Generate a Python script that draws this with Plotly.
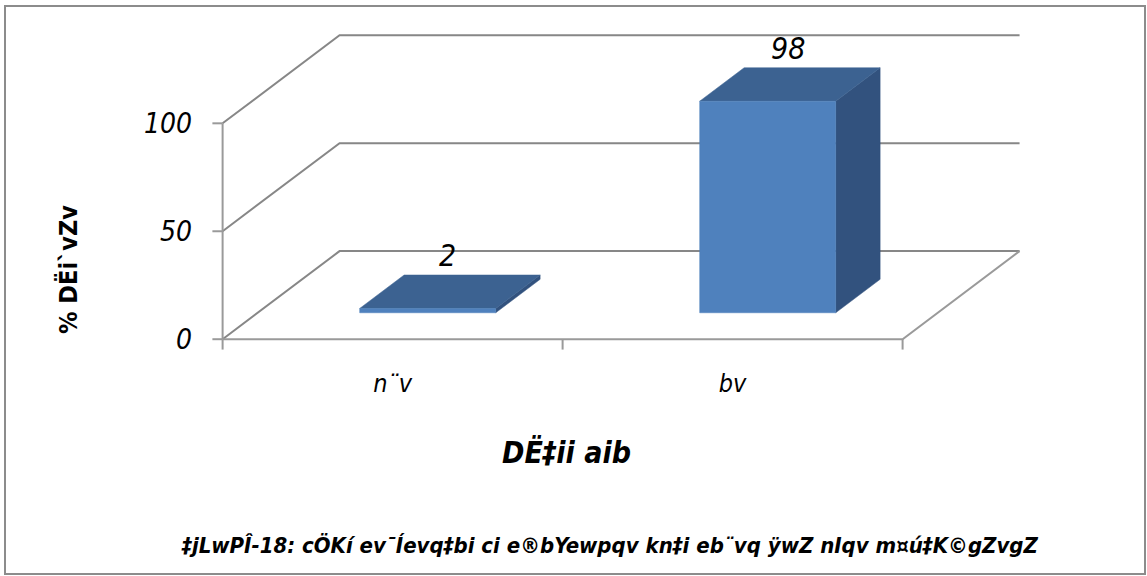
import plotly.graph_objects as go

# ---------------- data ----------------
categories = ["n¨v", "bv"]
values = [2, 98]
y_ticks = [0, 50, 100]
y_title = "% DËi`vZv"
x_title = "DË‡ii aib"
caption = "‡jLwPÎ-18: cÖKí ev¯Íevq‡bi ci e®bYewpqv kn‡i eb¨vq ÿwZ nIqv m¤ú‡K©gZvgZ"

# ---------------- 3-D projection settings ----------------
DEPTH_X = 0.344      # horizontal shift of the back wall (category units)
DEPTH_Y = 40.8       # vertical shift of the back wall (value units)
BAR_HALF = 0.2
D_FRONT = 0.30
D_BACK = 0.68
X_MIN, X_MAX = -0.5, len(categories) - 0.5

FRONT = "#4F81BD"
TOP = "#3C6291"
SIDE = "#32527E"
GRID = "#878787"
FONT = "Liberation Sans Narrow, DejaVu Sans Condensed, Arial Narrow, sans-serif"


def proj(x, v, d):
    return x + d * DEPTH_X, v + d * DEPTH_Y


fig = go.Figure()


def line(pts, color=GRID, width=2):
    xs = [p[0] for p in pts]
    ys = [p[1] for p in pts]
    fig.add_trace(go.Scatter(x=xs, y=ys, mode="lines", line=dict(color=color, width=width),
                             hoverinfo="skip", showlegend=False))


def poly(pts, color):
    xs = [p[0] for p in pts] + [pts[0][0]]
    ys = [p[1] for p in pts] + [pts[0][1]]
    fig.add_trace(go.Scatter(x=xs, y=ys, mode="lines", fill="toself", fillcolor=color,
                             line=dict(color=color, width=0.5), hoverinfo="skip", showlegend=False))


# walls: back gridlines and left-wall diagonals
for t in y_ticks:
    line([proj(X_MIN, t, 0), proj(X_MIN, t, 1), proj(X_MAX, t, 1)])
# floor right edge and front baseline
line([proj(X_MIN, 0, 0), proj(X_MAX, 0, 0), proj(X_MAX, 0, 1)], color="#9a9a9a")
# front value axis
line([proj(X_MIN, 0, 0), proj(X_MIN, max(y_ticks), 0)], color="#9a9a9a")
# value axis tick marks
for t in y_ticks:
    line([proj(X_MIN - 0.03, t, 0), proj(X_MIN, t, 0)], color="#9a9a9a")
# category axis tick marks
for k in range(len(categories) + 1):
    xb = X_MIN + k
    line([proj(xb, 0, 0), proj(xb, -4.8, 0)], color="#9a9a9a")

# bars
for i, v in enumerate(values):
    x = i
    l, r = x - BAR_HALF, x + BAR_HALF
    poly([proj(r, 0, D_FRONT), proj(r, 0, D_BACK), proj(r, v, D_BACK), proj(r, v, D_FRONT)], SIDE)
    poly([proj(l, v, D_FRONT), proj(r, v, D_FRONT), proj(r, v, D_BACK), proj(l, v, D_BACK)], TOP)
    poly([proj(l, 0, D_FRONT), proj(r, 0, D_FRONT), proj(r, v, D_FRONT), proj(l, v, D_FRONT)], FRONT)
    lx, ly = proj(x, v, (D_FRONT + D_BACK) / 2)
    fig.add_annotation(x=lx, y=ly, text=str(v), showarrow=False, yshift=36, xshift=-2,
                       xanchor="center", yanchor="middle",
                       font=dict(family=FONT, size=30, color="black", style="italic"))

# ---------------- layout ----------------
L, R, T, B = 209, 122, 32, 226
W, H = 1147, 576
pw, ph = W - L - R, H - T - B


def px(xp):
    return (xp - L) / pw


def py(yp):
    return (H - B - yp) / ph


fig.add_annotation(x=px(68), y=py(270), xref="paper", yref="paper", text=y_title, textangle=-90,
                   xanchor="center", yanchor="middle", showarrow=False,
                   font=dict(family=FONT, size=25, color="black", weight="bold"))
fig.add_annotation(x=px(566), y=py(452), xref="paper", yref="paper", text=x_title,
                   xanchor="center", yanchor="middle", showarrow=False,
                   font=dict(family=FONT, size=30, color="black", weight="bold", style="italic"))
fig.add_annotation(x=px(609), y=py(545), xref="paper", yref="paper", text=caption,
                   xanchor="center", yanchor="middle", showarrow=False,
                   font=dict(family=FONT, size=22, color="black", weight="bold", style="italic"))

fig.add_shape(type="rect", xref="paper", yref="paper",
              x0=px(5), x1=px(1145), y0=py(574), y1=py(6),
              line=dict(color="#8c8c8c", width=2), layer="below")

fig.update_layout(
    width=W, height=H,
    margin=dict(l=L, r=R, t=T, b=B),
    paper_bgcolor="white", plot_bgcolor="white",
    showlegend=False,
    xaxis=dict(range=[-0.54, 1.86], showgrid=False, zeroline=False, showline=False,
               tickvals=list(range(len(categories))), ticktext=categories, ticks="",
               ticklabelstandoff=16,
               tickfont=dict(family=FONT, size=25, color="black", style="italic")),
    yaxis=dict(range=[-5, 142.3], showgrid=False, zeroline=False, showline=False,
               tickvals=y_ticks, ticks="", ticklabelstandoff=16,
               tickfont=dict(family=FONT, size=28, color="black", style="italic")),
)

fig.write_html("out.html", config={"displayModeBar": False},
               post_script="document.body.style.margin='0';document.body.style.overflow='hidden';")
